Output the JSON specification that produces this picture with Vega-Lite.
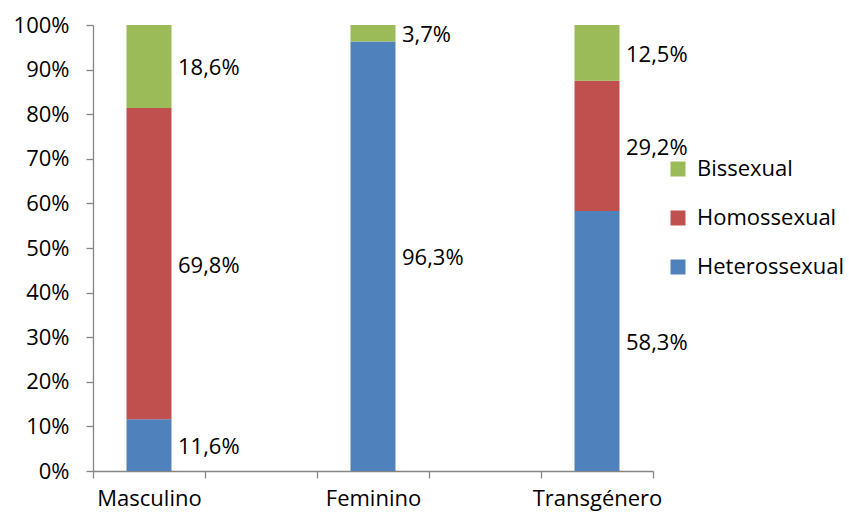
{
  "$schema": "https://vega.github.io/schema/vega-lite/v6.json",
  "autosize": "none",
  "padding": {"left": 93, "top": 25, "right": 196, "bottom": 45},
  "width": 560,
  "height": 446,
  "background": "white",
  "config": {
    "view": {"stroke": null},
    "font": "Open Sans",
    "axis": {"grid": false, "labelFont": "Open Sans", "labelFontSize": 22, "labelColor": "black", "domainColor": "#868686", "tickColor": "#868686", "tickSize": 7, "domainWidth": 1.3, "tickWidth": 1.3},
    "legend": {"labelFont": "Open Sans", "labelFontSize": 22, "labelColor": "black"}
  },
  "data": {
    "values": [
      {"genero": "Masculino", "orientacao": "Heterossexual", "ordem": 1, "pct": 11.6},
      {"genero": "Masculino", "orientacao": "Homossexual", "ordem": 2, "pct": 69.8},
      {"genero": "Masculino", "orientacao": "Bissexual", "ordem": 3, "pct": 18.6},
      {"genero": "Feminino", "orientacao": "Heterossexual", "ordem": 1, "pct": 96.3},
      {"genero": "Feminino", "orientacao": "Bissexual", "ordem": 3, "pct": 3.7},
      {"genero": "Transgénero", "orientacao": "Heterossexual", "ordem": 1, "pct": 58.3},
      {"genero": "Transgénero", "orientacao": "Homossexual", "ordem": 2, "pct": 29.2},
      {"genero": "Transgénero", "orientacao": "Bissexual", "ordem": 3, "pct": 12.5}
    ]
  },
  "transform": [
    {"stack": "pct", "groupby": ["genero"], "sort": [{"field": "ordem", "order": "ascending"}], "as": ["y0", "y1"]},
    {"calculate": "(datum.y0 + datum.y1) / 2", "as": "ymid"}
  ],
  "encoding": {
    "x": {
      "field": "genero", "type": "nominal",
      "scale": {"domain": ["Masculino", " ", "Feminino", "  ", "Transgénero"], "paddingInner": 0, "paddingOuter": 0},
      "axis": {"title": null, "labelAngle": 0, "tickBand": "extent", "labelPadding": 10}
    }
  },
  "layer": [
    {
      "mark": {"type": "bar", "width": 45},
      "encoding": {
        "y": {"field": "y0", "type": "quantitative", "scale": {"domain": [0, 100], "nice": false},
          "axis": {"title": null, "values": [0,10,20,30,40,50,60,70,80,90,100], "labelExpr": "datum.value + '%'", "labelPadding": 17}},
        "y2": {"field": "y1"},
        "color": {
          "field": "orientacao", "type": "nominal",
          "scale": {"domain": ["Bissexual", "Homossexual", "Heterossexual"], "range": ["#9BBB59", "#C0504D", "#4F81BD"]},
          "legend": {"title": null, "orient": "none", "legendX": 574, "legendY": 133, "symbolType": "square", "symbolSize": 225, "symbolOpacity": 1, "symbolStrokeWidth": 0, "rowPadding": 27, "labelOffset": 8}
        }
      }
    },
    {
      "mark": {"type": "text", "align": "left", "baseline": "middle", "dx": 29, "dy": 2, "fontSize": 22, "color": "black",
        "text": {"expr": "replace(format(datum.pct, '.1f'), '.', ',') + '%'"}},
      "encoding": {
        "y": {"field": "ymid", "type": "quantitative"}
      }
    }
  ]
}
